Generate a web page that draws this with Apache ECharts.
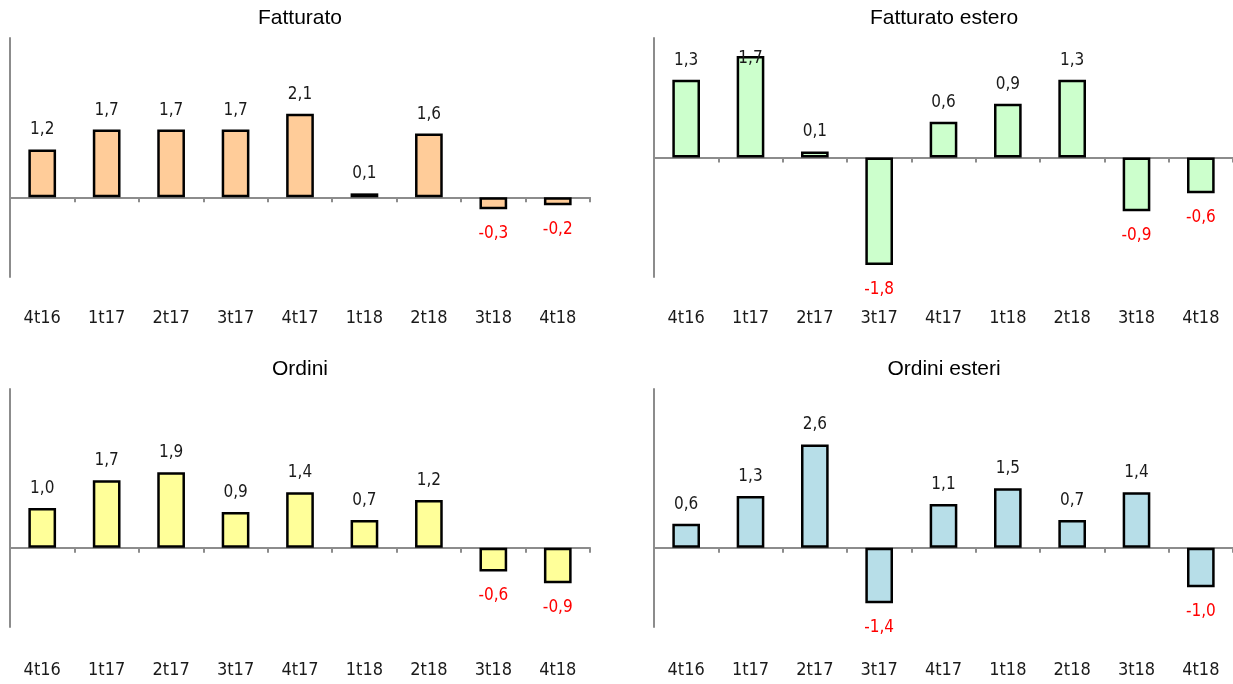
<!DOCTYPE html>
<html>
<head>
<meta charset="utf-8">
<script src="https://cdn.jsdelivr.net/npm/echarts@6/dist/echarts.min.js"></script>
<style>
html,body{margin:0;padding:0;background:#fff;}
#chart{width:1233px;height:684px;}
</style>
</head>
<body>
<div id="chart"></div>
<script>
var categories = ['4t16','1t17','2t17','3t17','4t17','1t18','2t18','3t18','4t18'];
var titles = ['Fatturato','Fatturato estero','Ordini','Ordini esteri'];
var fatturato = [1.2, 1.7, 1.7, 1.7, 2.1, 0.1, 1.6, -0.3, -0.2];
var fatturatoEstero = [1.3, 1.7, 0.1, -1.8, 0.6, 0.9, 1.3, -0.9, -0.6];
var ordini = [1.0, 1.7, 1.9, 0.9, 1.4, 0.7, 1.2, -0.6, -0.9];
var ordiniEsteri = [0.6, 1.3, 2.6, -1.4, 1.1, 1.5, 0.7, 1.4, -1.0];
var yMin = [-2, -2, -2, -2];
var yMax = [4, 2, 4, 4];

var seriesData = [fatturato, fatturatoEstero, ordini, ordiniEsteri];
var colors = ['#FFCC99', '#CCFFCC', '#FFFF99', '#B7DEE8'];
var grids = [
  {left: 10, top: 38, width: 580, height: 239},
  {left: 654, top: 38, width: 579, height: 239},
  {left: 10, top: 389, width: 580, height: 238},
  {left: 654, top: 389, width: 579, height: 238}
];
var titleX = [300, 944, 300, 944];
var titleY = [8, 8, 359, 359];
var catMargin = [32, 32, 34, 34];
var narrow = "'Liberation Sans Narrow','DejaVu Sans Condensed',sans-serif";

var option = {
  animation: false,
  backgroundColor: '#ffffff',
  title: [], grid: [], xAxis: [], yAxis: [], series: []
};

for (var i = 0; i < 4; i++) {
  option.title.push({
    text: titles[i], left: titleX[i], top: titleY[i], textAlign: 'center', padding: 0,
    textStyle: {fontFamily: "'Liberation Sans', Arial, sans-serif", fontSize: 21, fontWeight: 'normal', color: '#000'}
  });
  option.grid.push(Object.assign({containLabel: false}, grids[i]));
  option.xAxis.push({
    type: 'category', gridIndex: i, data: categories,
    axisLine: {show: true, onZero: true, lineStyle: {color: '#8c8c8c', width: 2}},
    axisTick: {show: true, length: 5, lineStyle: {color: '#8c8c8c', width: 2}},
    axisLabel: {show: false}, splitLine: {show: false}
  });
  option.xAxis.push({
    type: 'category', gridIndex: i, data: categories, position: 'bottom',
    axisLine: {show: false, onZero: false}, axisTick: {show: false},
    axisLabel: {show: true, margin: catMargin[i], fontFamily: narrow, fontSize: 18, color: '#1a1a1a'}
  });
  option.yAxis.push({
    type: 'value', gridIndex: i, min: yMin[i], max: yMax[i], interval: 1,
    axisLine: {show: true, onZero: false, lineStyle: {color: '#8c8c8c', width: 2}},
    axisTick: {show: false}, axisLabel: {show: false}, splitLine: {show: false}
  });
  var pxPerUnit = grids[i].height / (yMax[i] - yMin[i]);
  var items = seriesData[i].map(function (v) {
    var lab;
    if (v < 0) {
      lab = {position: 'bottom', distance: 16, color: '#FF0000'};
    } else if ((yMax[i] - v) * pxPerUnit < 30) {
      // label clamped inside the plot area, straddling the bar top
      lab = {position: 'top', distance: -11, color: '#1a1a1a'};
    } else {
      lab = {position: 'top', distance: 11, color: '#1a1a1a'};
    }
    return {value: v, label: lab};
  });
  option.series.push({
    type: 'bar', xAxisIndex: i * 2, yAxisIndex: i, data: items, barWidth: '43%',
    itemStyle: {color: colors[i], borderColor: '#000', borderWidth: 2.5},
    label: {
      show: true, fontFamily: narrow, fontSize: 17,
      formatter: function (p) { return p.value.toFixed(1).replace('.', ','); }
    }
  });
}

var chart = echarts.init(document.getElementById('chart'), null, {renderer: 'canvas'});
chart.setOption(option);
</script>
</body>
</html>
